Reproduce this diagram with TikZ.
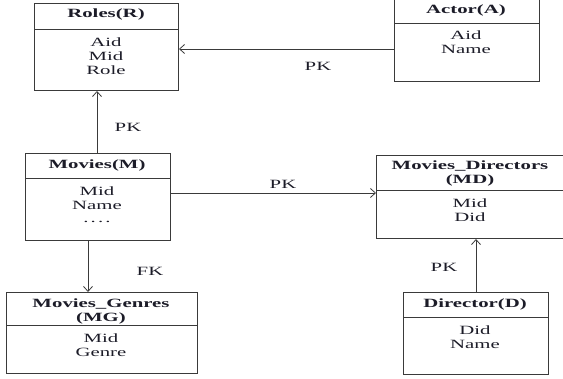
\documentclass[tikz,border=0pt]{standalone}
\usepackage{fontspec}
\setmainfont{Liberation Serif}[FakeStretch=1.65]
\usetikzlibrary{arrows.meta}
\definecolor{ink}{HTML}{1C1C28}
\definecolor{edge}{HTML}{3A3A3A}
\begin{document}
\begin{tikzpicture}[x=1pt,y=-1pt,
  tbl/.style={draw=edge,line width=1pt,inner sep=0pt,anchor=north west},
  txt/.style={text=ink,font=\fontsize{12.6}{14}\selectfont,inner sep=0pt,align=center,anchor=north},
  ttl/.style={txt,font=\fontsize{12.6}{14}\selectfont\bfseries},
  lbl/.style={text=ink,font=\fontsize{12.6}{14}\selectfont,inner sep=0pt},
  arr/.style={draw=edge,line width=0.8pt,-{Straight Barb[length=5pt,width=9pt]}}]
\useasboundingbox (0,0) rectangle (563,379);
% boxes
\node[tbl,minimum width=144pt,minimum height=87pt] (R) at (34,3) {};
\node[tbl,minimum width=145pt,minimum height=86pt] (A) at (394,-5) {};
\node[tbl,minimum width=145pt,minimum height=87pt] (M) at (25,153) {};
\node[tbl,minimum width=190pt,minimum height=83pt] (MD) at (376,155) {};
\node[tbl,minimum width=191pt,minimum height=81pt] (MG) at (6,292) {};
\node[tbl,minimum width=145pt,minimum height=82pt] (D) at (403,292) {};
% dividers
\draw[edge,line width=1pt] (R.west |- 0,30) -- (R.east |- 0,30);
\draw[edge,line width=1pt] (A.west |- 0,24) -- (A.east |- 0,24);
\draw[edge,line width=1pt] (M.west |- 0,179) -- (M.east |- 0,179);
\draw[edge,line width=1pt] (MD.west |- 0,191) -- (MD.east |- 0,191);
\draw[edge,line width=1pt] (MG.west |- 0,326) -- (MG.east |- 0,326);
\draw[edge,line width=1pt] (D.west |- 0,318) -- (D.east |- 0,318);
% titles
\node[ttl] (Rt) at (106,9) {Roles(R)};
\node[ttl] (At) at (466,5) {Actor(A)};
\node[ttl] (Mt) at (97,160) {Movies(M)};
\node[ttl] (MDt) at (470,161) {Movies\_Directors\\(MD)};
\node[ttl] (MGt) at (101,299) {Movies\_Genres\\(MG)};
\node[ttl] (Dt) at (475,299) {Director(D)};
% bodies
\node[txt] (Rb) at (106,38) {Aid\\Mid\\Role};
\node[txt] (Ab) at (466,31) {Aid\\Name};
\node[txt] (Mb) at (97,187) {Mid\\Name\\[-1pt].\,.\,.\,.};
\node[txt] (MDb) at (470,199) {Mid\\Did};
\node[txt] (MGb) at (101,334) {Mid\\Genre};
\node[txt] (Db) at (475,326) {Did\\Name};
% connectors
\draw[arr] (A.west |- 0,49) -- (R.east |- 0,49);
\draw[arr] (M.north -| 97,0) -- (R.south -| 97,0);
\draw[arr] (M.east |- 0,193) -- (MD.west |- 0,193);
\draw[arr] (M.south -| 88,0) -- (MG.north -| 88,0);
\draw[arr] (D.north -| 476,0) -- (MD.south -| 476,0);
% labels
\node[lbl] (l1) at (318,66) {PK};
\node[lbl] (l2) at (128,127) {PK};
\node[lbl] (l3) at (283,184) {PK};
\node[lbl] (l4) at (150,271) {FK};
\node[lbl] (l5) at (444,267) {PK};
\end{tikzpicture}
\end{document}
